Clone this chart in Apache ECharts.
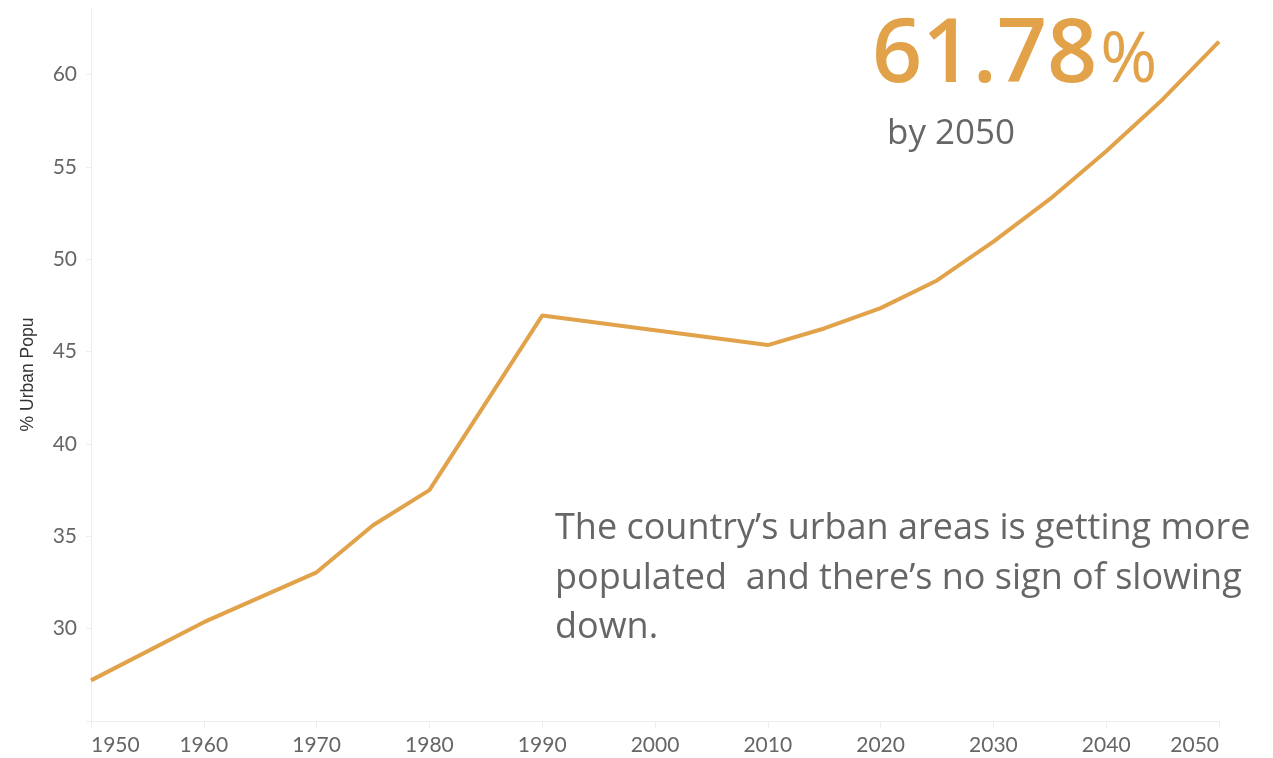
<!DOCTYPE html>
<html>
<head>
<meta charset="utf-8">
<title>% Urban Population</title>
<script src="https://cdn.jsdelivr.net/npm/echarts@6/dist/echarts.min.js"></script>
<style>
  html, body { margin: 0; padding: 0; background: #fff; }
  #chart { width: 1273px; height: 758px; }
</style>
</head>
<body>
<div id="chart"></div>
<script>
// years and % urban population
const years = [1950, 1960, 1970, 1975, 1980, 1990, 2010, 2015, 2020, 2025, 2030, 2035, 2040, 2045, 2050];
const urbanPct = [27.2, 30.35, 33.05, 35.6, 37.5, 46.95, 45.35, 46.25, 47.35, 48.85, 50.95, 53.25, 55.85, 58.65, 61.78];

const xTicks = [1950, 1960, 1970, 1980, 1990, 2000, 2010, 2020, 2030, 2040, 2050];
const yTicks = [30, 35, 40, 45, 50, 55, 60];

const orange = "#e1a24a";
const grey = "#666666";
const axisGrey = "#eeeeee";

const chart = echarts.init(document.getElementById("chart"));

const option = {
  animation: false,
  grid: {
    left: 91,
    right: 54,
    top: 8,
    bottom: 37,
  },
  xAxis: {
    type: "value",
    min: xTicks[0],
    max: xTicks[xTicks.length - 1],
    interval: 10,
    axisLine: { lineStyle: { color: axisGrey, width: 1 } },
    axisTick: { show: true, length: 7, lineStyle: { color: axisGrey } },
    splitLine: { show: false },
    axisLabel: {
      color: grey,
      fontFamily: "Lato",
      fontSize: 21,
      margin: 14,
      alignMinLabel: "left",
      alignMaxLabel: "right",
      formatter: (v) => String(v),
    },
  },
  yAxis: {
    type: "value",
    min: 25,
    max: 63.6,
    interval: 5,
    name: "% Urban Popu",
    nameLocation: "middle",
    nameGap: 54,
    nameTextStyle: {
      color: "#333333",
      fontFamily: "Liberation Sans",
      fontSize: 17.5,
      padding: [0, 20, 0, 0],
    },
    axisLine: { show: true, lineStyle: { color: axisGrey, width: 1 } },
    axisTick: { show: true, length: 5, lineStyle: { color: axisGrey } },
    splitLine: { show: false },
    axisLabel: {
      color: grey,
      fontFamily: "Lato",
      fontSize: 21,
      margin: 14,
      showMaxLabel: false,
      // only the tick labels shown in the picture
      formatter: (v) => (yTicks.includes(v) ? String(v) : ""),
    },
  },
  series: [
    {
      type: "line",
      data: years.map((y, i) => [y, urbanPct[i]]),
      symbol: "none",
      lineStyle: { color: orange, width: 4 },
      itemStyle: { color: orange },
    },
  ],
  // text annotations
  graphic: [
    {
      type: "text",
      left: 872,
      top: 13,
      style: {
        text: "{big|61.78}{pct|%}",
        rich: {
          big: { fontFamily: "Open Sans", fontWeight: 600, fontSize: 88, fill: orange },
          pct: { fontFamily: "Open Sans", fontSize: 69, fill: orange, padding: [10, 0, 0, 3] },
        },
      },
    },
    {
      type: "text",
      left: 887,
      top: 117,
      style: {
        text: "by 2050",
        fontFamily: "Open Sans",
        fontSize: 35,
        fill: grey,
      },
    },
    {
      type: "text",
      left: 555,
      top: 504,
      style: {
        text: "The country\u2019s urban areas is getting more\npopulated  and there\u2019s no sign of slowing\ndown.",
        fontFamily: "Open Sans",
        fontSize: 36,
        lineHeight: 49.5,
        fill: grey,
      },
    },
  ],
};

chart.setOption(option);
</script>
</body>
</html>
